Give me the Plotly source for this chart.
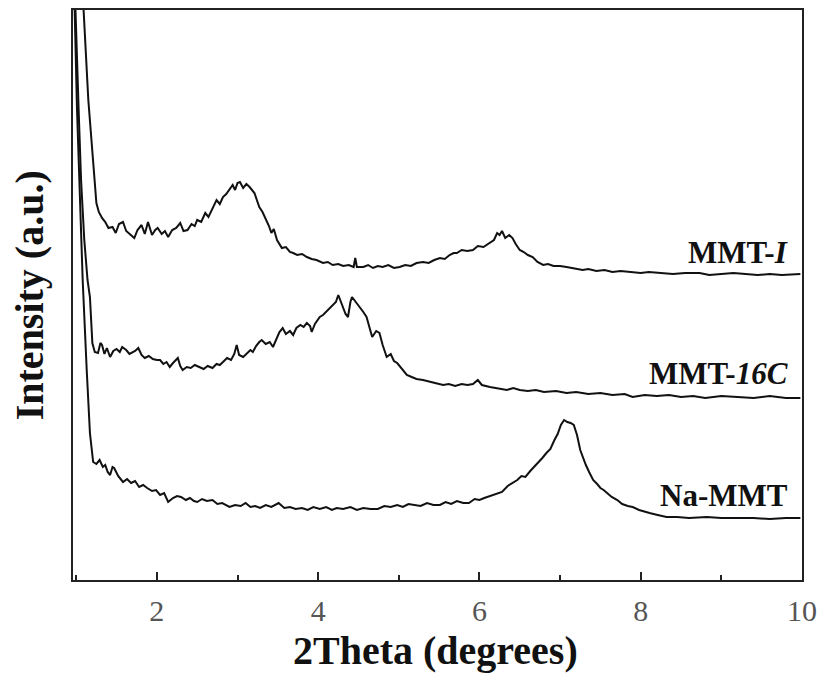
import plotly.graph_objects as go

# ---------------- data ----------------
mmt_i_x = [1.05, 1.09, 1.15, 1.21, 1.25, 1.28, 1.32, 1.36, 1.40, 1.45, 1.49, 1.53, 1.58, 1.62, 1.67,
           1.72, 1.76, 1.81, 1.85, 1.89, 1.94, 1.98, 2.01, 2.06, 2.10, 2.14, 2.19, 2.24, 2.29, 2.33,
           2.38, 2.43, 2.47, 2.50, 2.55, 2.60, 2.64, 2.69, 2.74, 2.78, 2.82, 2.86, 2.90, 2.94, 2.97,
           3.00, 3.03, 3.07, 3.11, 3.15, 3.21, 3.24, 3.27, 3.31, 3.36, 3.39, 3.42, 3.45, 3.49, 3.52,
           3.55, 3.60, 3.65, 3.69, 3.74, 3.80, 3.86, 3.92, 3.98, 4.06, 4.12, 4.18, 4.25, 4.31, 4.38,
           4.44, 4.46, 4.48, 4.56, 4.62, 4.68, 4.74, 4.80, 4.87, 4.94, 5.01, 5.08, 5.15, 5.22, 5.30,
           5.37, 5.44, 5.51, 5.57, 5.63, 5.68, 5.72, 5.78, 5.85, 5.92, 5.98, 6.05, 6.13, 6.18, 6.22,
           6.25, 6.28, 6.32, 6.37, 6.41, 6.45, 6.50, 6.55, 6.60, 6.66, 6.72, 6.79, 6.85, 6.92, 7.00,
           7.08, 7.16, 7.22, 7.28, 7.35, 7.45, 7.55, 7.65, 7.75, 7.90, 8.00, 8.10, 8.25, 8.40, 8.55,
           8.73, 8.85, 9.00, 9.15, 9.30, 9.45, 9.60, 9.75, 9.98]
mmt_i_y = [700, 572, 480, 420, 377, 368, 362, 358, 352, 353, 347, 356, 358, 349, 345,
           342, 350, 355, 346, 358, 345, 350, 352, 346, 349, 343, 350, 352, 357, 349,
           350, 356, 354, 360, 358, 367, 363, 372, 380, 376, 383, 386, 390, 395, 390,
           397, 398, 392, 396, 393, 387, 380, 373, 368, 360, 354, 347, 351, 340, 336,
           332, 333, 328, 327, 325, 326, 323, 321, 320, 317, 318, 315, 316, 314, 315,
           313, 322, 313, 313, 315, 312, 314, 313, 315, 312, 313, 315, 314, 317, 318,
           317, 320, 322, 321, 325, 327, 327, 330, 329, 330, 334, 333, 337, 340, 347,
           345, 349, 342, 345, 342, 336, 330, 328, 325, 323, 318, 315, 316, 314, 314,
           313, 312, 311, 310, 311, 309, 310, 308, 309, 308, 307, 308, 307, 306, 307,
           307, 305, 306, 307, 306, 305, 306, 305, 306]

mmt_16c_x = [0.97, 0.99, 1.03, 1.06, 1.10, 1.14, 1.17, 1.20, 1.23, 1.27, 1.30, 1.32, 1.35, 1.38, 1.42,
             1.46, 1.50, 1.54, 1.57, 1.62, 1.66, 1.69, 1.73, 1.77, 1.81, 1.85, 1.90, 1.95, 2.00, 2.04,
             2.08, 2.12, 2.16, 2.20, 2.26, 2.29, 2.32, 2.37, 2.42, 2.47, 2.53, 2.58, 2.63, 2.69, 2.74,
             2.78, 2.82, 2.87, 2.92, 2.96, 2.99, 3.02, 3.07, 3.12, 3.16, 3.19, 3.23, 3.27, 3.30, 3.35,
             3.40, 3.44, 3.48, 3.52, 3.56, 3.60, 3.65, 3.69, 3.73, 3.78, 3.82, 3.86, 3.90, 3.92, 3.96,
             4.02, 4.06, 4.10, 4.14, 4.18, 4.22, 4.25, 4.28, 4.31, 4.34, 4.37, 4.40, 4.42, 4.45, 4.48,
             4.52, 4.56, 4.60, 4.63, 4.67, 4.72, 4.76, 4.80, 4.85, 4.90, 4.94, 4.98, 5.04, 5.10, 5.16,
             5.22, 5.30, 5.38, 5.45, 5.55, 5.62, 5.70, 5.78, 5.85, 5.92, 5.98, 6.03, 6.13, 6.22, 6.34,
             6.42, 6.50, 6.60, 6.70, 6.80, 6.95, 7.08, 7.20, 7.35, 7.50, 7.65, 7.80, 7.90, 8.05, 8.20,
             8.35, 8.50, 8.65, 8.80, 9.00, 9.20, 9.40, 9.60, 9.80, 9.98]
mmt_16c_y = [700, 572, 470, 400, 340, 300, 283, 237, 228, 227, 237, 235, 226, 232, 223,
             229, 231, 228, 233, 230, 226, 227, 229, 232, 225, 222, 224, 221, 220, 220,
             216, 218, 213, 217, 222, 214, 210, 213, 212, 215, 213, 211, 214, 212, 216,
             215, 218, 222, 220, 226, 235, 225, 223, 227, 230, 228, 234, 238, 240, 236,
             238, 233, 241, 248, 252, 246, 249, 245, 252, 255, 253, 257, 254, 248, 256,
             263, 265, 268, 272, 274, 278, 285, 279, 273, 266, 263, 278, 283, 280, 277,
             272, 268, 263, 255, 243, 249, 247, 235, 223, 226, 219, 217, 211, 205, 203,
             201, 200, 198, 197, 195, 196, 194, 196, 195, 196, 200, 195, 193, 192, 190,
             192, 190, 189, 190, 188, 189, 187, 188, 186, 187, 185, 186, 183, 185, 184,
             185, 183, 184, 182, 184, 183, 182, 184, 182, 182]

na_mmt_x = [0.96, 0.98, 1.01, 1.04, 1.08, 1.13, 1.17, 1.21, 1.25, 1.29, 1.33, 1.36, 1.39, 1.42, 1.45,
            1.47, 1.52, 1.58, 1.63, 1.68, 1.73, 1.78, 1.83, 1.88, 1.94, 1.99, 2.04, 2.09, 2.14, 2.20,
            2.25, 2.30, 2.36, 2.41, 2.46, 2.50, 2.56, 2.62, 2.69, 2.75, 2.81, 2.90, 2.97, 3.04, 3.10,
            3.16, 3.22, 3.28, 3.35, 3.42, 3.51, 3.58, 3.65, 3.72, 3.80, 3.87, 3.94, 4.02, 4.10, 4.17,
            4.23, 4.31, 4.40, 4.48, 4.56, 4.65, 4.74, 4.82, 4.90, 4.98, 5.05, 5.12, 5.19, 5.27, 5.35,
            5.43, 5.51, 5.58, 5.65, 5.72, 5.80, 5.87, 5.94, 6.00, 6.06, 6.13, 6.20, 6.28, 6.35, 6.42,
            6.47, 6.52, 6.57, 6.63, 6.68, 6.73, 6.78, 6.83, 6.88, 6.93, 6.97, 7.01, 7.05, 7.09, 7.13,
            7.17, 7.21, 7.25, 7.28, 7.32, 7.36, 7.41, 7.46, 7.50, 7.54, 7.58, 7.64, 7.71, 7.77, 7.84,
            7.90, 7.98, 8.05, 8.11, 8.21, 8.32, 8.45, 8.60, 8.82, 9.00, 9.20, 9.40, 9.60, 9.80, 9.98]
na_mmt_y = [700, 572, 470, 390, 300, 210, 147, 118, 116, 120, 113, 115, 108, 105, 113,
            112, 104, 98, 101, 97, 99, 93, 95, 92, 89, 90, 85, 87, 78, 82,
            84, 83, 80, 82, 79, 78, 81, 79, 80, 76, 77, 73, 75, 74, 77,
            73, 74, 72, 75, 73, 77, 72, 73, 71, 72, 70, 73, 71, 73, 70,
            72, 71, 73, 70, 72, 71, 71, 74, 73, 75, 73, 76, 75, 74, 77,
            75, 75, 78, 76, 79, 77, 77, 81, 80, 82, 84, 86, 88, 94, 98,
            100, 104, 103, 109, 113, 117, 122, 127, 131, 140, 146, 155, 160, 158, 157,
            155, 145, 130, 123, 115, 108, 100, 96, 92, 90, 87, 83, 80, 76, 74,
            73, 70, 68, 67, 65, 63, 63, 62, 63, 62, 62, 62, 61, 62, 62]

series_names = ["MMT-<i>I</i>", "MMT-<i>16C</i>", "Na-MMT"]
label_y = [328, 207, 85]
x_ticks = [2, 4, 6, 8, 10]

# ---------------- figure ----------------
FONT = "Liberation Serif"
fig = go.Figure()
for xs, ys in [(mmt_i_x, mmt_i_y), (mmt_16c_x, mmt_16c_y), (na_mmt_x, na_mmt_y)]:
    fig.add_trace(go.Scatter(x=xs, y=ys, mode="lines",
                             line=dict(color="#111111", width=2),
                             showlegend=False, hoverinfo="skip"))

for name, ly in zip(series_names, label_y):
    fig.add_annotation(x=9.85, y=ly, xref="x", yref="y", text="<b>" + name + "</b>",
                       showarrow=False, xanchor="right", yanchor="middle",
                       font=dict(family=FONT, size=31, color="#111111"))

fig.add_annotation(x=-0.06, y=0.5, xref="paper", yref="paper", text="<b>Intensity (a.u.)</b>",
                   textangle=-90, showarrow=False, xanchor="center", yanchor="middle",
                   font=dict(family=FONT, size=40, color="#111111"))
fig.add_annotation(x=0.497, y=-0.081, xref="paper", yref="paper", text="<b>2Theta (degrees)</b>",
                   showarrow=False, xanchor="center", yanchor="top",
                   font=dict(family=FONT, size=40, color="#111111"))

fig.update_layout(
    width=829, height=675,
    margin=dict(l=65, r=35, t=2, b=103, autoexpand=False),
    plot_bgcolor="white", paper_bgcolor="white",
)
fig.update_xaxes(range=[0.96, 10], tickvals=x_ticks, ticktext=[str(v) for v in x_ticks],
                 ticks="inside", ticklen=8, tickwidth=1.5, tickcolor="#222222",
                 minor=dict(ticks="inside", dtick=1, tick0=1, ticklen=5, tickwidth=1.5, tickcolor="#222222"),
                 showline=True, linecolor="#222222", linewidth=2, mirror=True,
                 showgrid=False, zeroline=False, automargin=False, ticklabelstandoff=3,
                 tickfont=dict(family=FONT, size=30, color="#555555"))
fig.update_yaxes(range=[0, 570], showticklabels=False, ticks="",
                 showline=True, linecolor="#222222", linewidth=2, mirror=True,
                 showgrid=False, zeroline=False, automargin=False)

fig.write_html("out.html")
